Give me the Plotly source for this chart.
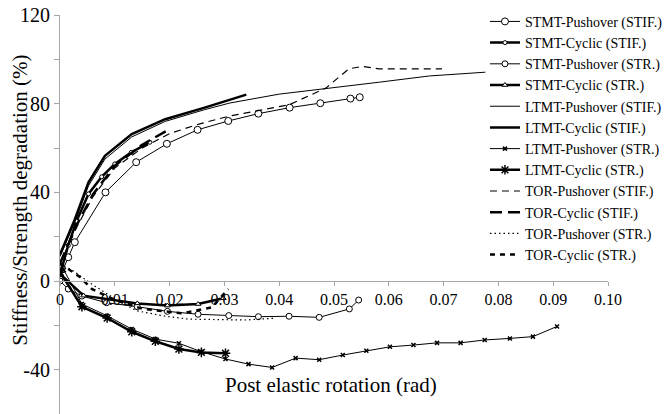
import plotly.graph_objects as go

# ---------------- data ----------------
stmt_push_stif_x = [0.0, 0.0015, 0.0027, 0.0083, 0.0139, 0.0195, 0.0251, 0.0307, 0.0362, 0.0419, 0.0475, 0.0530, 0.0547]
stmt_push_stif_y = [2.0, 10.7, 17.5, 40.0, 53.6, 61.9, 68.2, 72.2, 75.5, 78.2, 80.2, 82.3, 82.9]

stmt_cyc_stif_x = [0.0, 0.0015, 0.0030, 0.0052, 0.0076, 0.0100, 0.0130, 0.0164]
stmt_cyc_stif_y = [3.0, 16.0, 27.0, 39.3, 47.0, 52.8, 58.0, 62.6]

stmt_push_str_x = [0.0, 0.0015, 0.0040, 0.0085, 0.0141, 0.0196, 0.0252, 0.0308, 0.0362, 0.0418, 0.0473, 0.0528, 0.0545]
stmt_push_str_y = [0.0, -3.6, -6.8, -9.8, -11.6, -13.7, -15.0, -15.6, -16.1, -15.9, -16.4, -12.6, -8.6]

stmt_cyc_str_x = [0.0, 0.0043, 0.0141, 0.0196, 0.0252, 0.0298]
stmt_cyc_str_y = [3.2, -6.6, -10.1, -11.1, -10.4, -7.8]

ltmt_push_stif_x = [0.0, 0.0027, 0.0052, 0.0082, 0.0131, 0.0192, 0.0264, 0.0310, 0.0400, 0.0486, 0.0583, 0.0674, 0.0765, 0.0776]
ltmt_push_stif_y = [11.0, 26.5, 43.0, 55.0, 65.0, 72.0, 77.3, 80.3, 84.3, 87.0, 89.7, 92.5, 93.9, 94.2]

ltmt_cyc_stif_x = [0.0, 0.0027, 0.0052, 0.0082, 0.0131, 0.0192, 0.0264, 0.0340]
ltmt_cyc_stif_y = [12.0, 27.8, 44.5, 56.5, 66.3, 73.0, 78.2, 84.1]

ltmt_push_str_x = [0.0007, 0.0040, 0.0086, 0.0131, 0.0174, 0.0217, 0.0258, 0.0302, 0.0344, 0.0387, 0.0430, 0.0473,
                   0.0516, 0.0559, 0.0602, 0.0645, 0.0688, 0.0731, 0.0775, 0.0821, 0.0863, 0.0907]
ltmt_push_str_y = [5.0, -10.4, -15.7, -21.7, -26.2, -28.1, -31.9, -35.2, -37.5, -39.0, -34.8, -35.5,
                   -33.4, -31.5, -29.7, -28.9, -27.9, -27.9, -26.6, -25.9, -25.1, -20.5]

ltmt_cyc_str_x = [0.0, 0.0040, 0.0086, 0.0131, 0.0174, 0.0217, 0.0258, 0.0302]
ltmt_cyc_str_y = [4.0, -11.6, -16.7, -22.9, -27.2, -30.7, -32.2, -32.6]

tor_push_stif_x = [0.0, 0.0030, 0.0060, 0.0100, 0.0150, 0.0200, 0.0255, 0.0309, 0.0418, 0.0485, 0.0527, 0.0551, 0.0582, 0.0697]
tor_push_stif_y = [8.0, 24.0, 38.0, 51.0, 60.0, 66.5, 70.9, 74.4, 79.5, 87.0, 95.7, 96.8, 95.7, 95.7]

tor_cyc_stif_x = [0.0, 0.0030, 0.0060, 0.0100, 0.0150, 0.0200]
tor_cyc_stif_y = [8.0, 25.0, 39.0, 52.0, 61.5, 68.5]

tor_push_str_x = [0.0, 0.0019, 0.0058, 0.0100, 0.0139, 0.0190, 0.0235, 0.0290, 0.0338, 0.0365, 0.0390]
tor_push_str_y = [7.0, 5.4, -1.4, -8.0, -13.4, -15.8, -17.2, -17.5, -17.6, -17.2, -16.8]

tor_cyc_str_x = [0.0, 0.0015, 0.0037, 0.0058, 0.0100, 0.0150, 0.0222, 0.0277, 0.0307]
tor_cyc_str_y = [8.0, 5.4, 1.7, -3.6, -8.5, -12.5, -14.6, -11.9, -3.6]

x_tick_vals = [0.0, 0.01, 0.02, 0.03, 0.04, 0.05, 0.06, 0.07, 0.08, 0.09, 0.10]
x_tick_text = ["0", "0.01", "0.02", "0.03", "0.04", "0.05", "0.06", "0.07", "0.08", "0.09", "0.10"]
y_tick_vals = [-60, -40, -20, 0, 20, 40, 60, 80, 100, 120]
y_tick_text = ["", "-40", "", "0", "", "40", "", "80", "", "120"]

# ---------------- figure ----------------
FONT = "Liberation Serif"
K = "#000000"
AX = "#a6a6a6"

fig = go.Figure()


def add(name, x, y, width=1.0, dash="solid", symbol=None, msize=6, mfill="white", mline=1.0):
    mode = "lines+markers" if symbol else "lines"
    marker = None
    if symbol:
        marker = dict(symbol=symbol, size=msize, color=mfill, line=dict(color=K, width=mline))
    fig.add_trace(go.Scatter(x=x, y=y, name=name, mode=mode,
                             line=dict(color=K, width=width, dash=dash),
                             marker=marker))


add("STMT-Pushover (STIF.)", stmt_push_stif_x, stmt_push_stif_y, 1.0, symbol="circle", msize=7)
add("STMT-Cyclic (STIF.)", stmt_cyc_stif_x, stmt_cyc_stif_y, 2.5, symbol="circle", msize=4)
add("STMT-Pushover (STR.)", stmt_push_str_x, stmt_push_str_y, 1.0, symbol="circle", msize=6)
add("STMT-Cyclic (STR.)", stmt_cyc_str_x, stmt_cyc_str_y, 2.5, symbol="triangle-up", msize=5)
add("LTMT-Pushover (STIF.)", ltmt_push_stif_x, ltmt_push_stif_y, 1.0)
add("LTMT-Cyclic (STIF.)", ltmt_cyc_stif_x, ltmt_cyc_stif_y, 2.5)
add("LTMT-Pushover (STR.)", ltmt_push_str_x, ltmt_push_str_y, 1.0, symbol="x-thin", msize=4, mfill=K, mline=1.5)
add("LTMT-Cyclic (STR.)", ltmt_cyc_str_x, ltmt_cyc_str_y, 2.5, symbol="asterisk", msize=8, mfill=K, mline=1.5)
add("TOR-Pushover (STIF.)", tor_push_stif_x, tor_push_stif_y, 1.2, dash="7px,5px")
add("TOR-Cyclic (STIF.)", tor_cyc_stif_x, tor_cyc_stif_y, 2.5, dash="12px,6px")
add("TOR-Pushover (STR.)", tor_push_str_x, tor_push_str_y, 1.2, dash="1.5px,3px")
add("TOR-Cyclic (STR.)", tor_cyc_str_x, tor_cyc_str_y, 2.5, dash="5px,5px")

fig.update_layout(
    width=670, height=414,
    margin=dict(l=60, r=62, t=15, b=0, autoexpand=False),
    paper_bgcolor="white", plot_bgcolor="white",
    font=dict(family=FONT, color=K),
    showlegend=True,
    legend=dict(x=0.7755, xanchor="left", y=1.023, yanchor="top",
                font=dict(family=FONT, size=14, color=K),
                bgcolor="rgba(0,0,0,0)", borderwidth=0, tracegroupgap=0,
                itemwidth=30, maxheight=400),
    xaxis=dict(range=[0, 0.10], anchor="free", position=1/3,
               showline=True, linecolor=AX, linewidth=1.2,
               ticks="outside", ticklen=4, tickcolor=AX,
               tickvals=x_tick_vals, ticktext=x_tick_text,
               tickfont=dict(family=FONT, size=16, color=K),
               showgrid=False, zeroline=False),
    yaxis=dict(range=[-60, 120],
               showline=True, linecolor=AX, linewidth=1.2,
               ticks="outside", ticklen=5, tickcolor=AX,
               tickvals=y_tick_vals, ticktext=y_tick_text,
               tickfont=dict(family=FONT, size=20, color=K),
               showgrid=False, zeroline=False),
    annotations=[
        dict(text="Post elastic rotation (rad)", xref="paper", yref="paper",
             x=0.495, y=0.0727, xanchor="center", yanchor="middle", showarrow=False,
             font=dict(family=FONT, size=21, color=K)),
        dict(text="Stiffness/Strength degradation (%)", xref="paper", yref="paper",
             x=-0.072, y=0.536, xanchor="center", yanchor="middle", showarrow=False,
             textangle=-90, font=dict(family=FONT, size=21, color=K)),
    ],
)

fig.write_html("out.html")
